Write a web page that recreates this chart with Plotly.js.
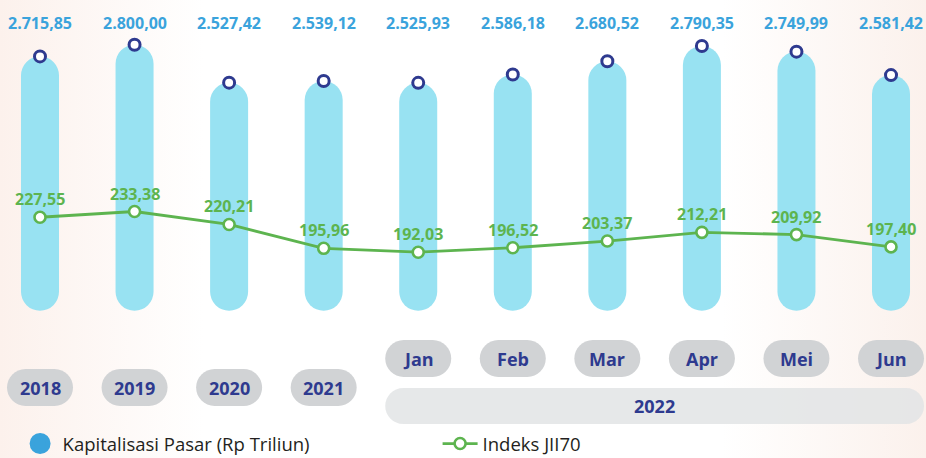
<!DOCTYPE html>
<html>
<head>
<meta charset="utf-8">
<script src="https://cdn.plot.ly/plotly-3.0.1.min.js"></script>
<style>
  html, body { margin: 0; padding: 0; }
  body { width: 926px; height: 458px; overflow: hidden;
         background: linear-gradient(90deg, #fcf1ec 0%, #ffffff 22%, #ffffff 78%, #fbf1ec 100%); }
  #chart { width: 926px; height: 458px; }
</style>
</head>
<body>
<div id="chart"></div>
<script>
// ---- data ----
const categories = ['2018', '2019', '2020', '2021', 'Jan', 'Feb', 'Mar', 'Apr', 'Mei', 'Jun'];
const kapitalisasi = [2715.85, 2800.00, 2527.42, 2539.12, 2525.93, 2586.18, 2680.52, 2790.35, 2749.99, 2581.42];
const jii70 = [227.55, 233.38, 220.21, 195.96, 192.03, 196.52, 203.37, 212.21, 209.92, 197.40];
const groupLabel = '2022';
const groupMembers = ['Jan', 'Feb', 'Mar', 'Apr', 'Mei', 'Jun'];
const seriesNames = ['Kapitalisasi Pasar (Rp Triliun)', 'Indeks JII70'];

// ---- styling constants ----
const FONT = 'Open Sans, Noto Sans, sans-serif';
const BAR_COLOR = '#98e2f2';
const NAVY = '#2e3a8f';
const BLUE_TEXT = '#3aa3dc';
const GREEN = '#5db44f';
const PILL_GREY = '#d1d3d5';
const BAND_GREY = 'rgba(226,228,229,0.85)';
const PILL_BOTTOM = 889;   // value where the pill bars end at the bottom
const W = 926, H = 458;

const xs = categories.map((_, i) => i);

function fmtID(v) {
  const parts = v.toFixed(2).split('.');
  parts[0] = parts[0].replace(/\B(?=(\d{3})+(?!\d))/g, '.');
  return parts[0] + ',' + parts[1];
}

function pillPath(w, h) {
  const r = h / 2, half = w / 2 - r, k = 0.5523 * r;
  return `M ${-half},${-r} L ${half},${-r} C ${half + k},${-r} ${half + r},${-k} ${half + r},0 ` +
         `C ${half + r},${k} ${half + k},${r} ${half},${r} L ${-half},${r} ` +
         `C ${-half - k},${r} ${-half - r},${k} ${-half - r},0 C ${-half - r},${-k} ${-half - k},${-r} ${-half},${-r} Z`;
}

const traces = [];
// pill bars
traces.push({
  type: 'bar', x: xs, y: kapitalisasi.map(v => v - PILL_BOTTOM), base: PILL_BOTTOM,
  width: 0.402, marker: { color: BAR_COLOR, cornerradius: '50%', line: { width: 0 } },
  showlegend: false, hoverinfo: 'skip'
});
// top markers
traces.push({
  type: 'scatter', mode: 'markers', x: xs, y: kapitalisasi,
  marker: { size: 11, color: '#ffffff', line: { color: NAVY, width: 3 } },
  showlegend: false, hoverinfo: 'skip', cliponaxis: false
});
// legend entry for kapitalisasi
traces.push({
  type: 'scatter', mode: 'markers', x: [null], y: [null], name: seriesNames[0],
  marker: { size: 16, color: '#3aa3dc', line: { color: '#3aa3dc', width: 5 } }, hoverinfo: 'skip'
});
// JII70 line
traces.push({
  type: 'scatter', mode: 'lines+markers', x: xs, y: jii70, yaxis: 'y2', name: seriesNames[1],
  line: { color: GREEN, width: 2.8 },
  marker: { size: 11, color: '#ffffff', line: { color: GREEN, width: 2.6 } },
  hoverinfo: 'skip', cliponaxis: false
});

const annotations = [];
const shapes = [];

kapitalisasi.forEach((v, i) => {
  annotations.push({
    x: i, xref: 'x', y: 1 - 23 / H, yref: 'paper', yanchor: 'middle',
    text: '<b>' + fmtID(v) + '</b>', showarrow: false,
    font: { family: FONT, size: 16, color: BLUE_TEXT }
  });
});

jii70.forEach((v, i) => {
  annotations.push({
    x: i, xref: 'x', y: v, yref: 'y2', yanchor: 'middle', yshift: 18,
    text: '<b>' + fmtID(v) + '</b>', showarrow: false,
    font: { family: FONT, size: 16, color: GREEN }
  });
});

categories.forEach((c, i) => {
  const isMonth = groupMembers.includes(c);
  const yc = isMonth ? 1 - 358.5 / H : 1 - 387.5 / H;
  shapes.push({
    type: 'path', xref: 'x', yref: 'paper', xsizemode: 'pixel', ysizemode: 'pixel',
    xanchor: i, yanchor: yc, path: pillPath(66, 37),
    fillcolor: PILL_GREY, line: { width: 0 }, layer: 'below'
  });
  annotations.push({
    x: i, xref: 'x', y: yc, yref: 'paper', yanchor: 'middle',
    text: '<b>' + c + '</b>', showarrow: false,
    font: { family: FONT, size: 18, color: NAVY }
  });
});

// group band (2022)
const gIdx = groupMembers.map(m => categories.indexOf(m));
const gFirst = Math.min(...gIdx), gLast = Math.max(...gIdx);
const gCenter = (gFirst + gLast) / 2;
const xRange = [-0.423, 9.370];
const pxPerUnit = W / (xRange[1] - xRange[0]);
const bandW = (gLast - gFirst) * pxPerUnit + 66;
const bandY = 1 - 406 / H;
shapes.push({
  type: 'path', xref: 'x', yref: 'paper', xsizemode: 'pixel', ysizemode: 'pixel',
  xanchor: gCenter, yanchor: bandY, path: pillPath(bandW, 36),
  fillcolor: BAND_GREY, line: { width: 0 }, layer: 'below'
});
annotations.push({
  x: gCenter, xref: 'x', y: bandY, yref: 'paper', yanchor: 'middle',
  text: '<b>' + groupLabel + '</b>', showarrow: false,
  font: { family: FONT, size: 18, color: NAVY }
});

const layout = {
  width: W, height: H,
  margin: { l: 0, r: 0, t: 0, b: 0, autoexpand: false },
  paper_bgcolor: 'rgba(0,0,0,0)', plot_bgcolor: 'rgba(0,0,0,0)',
  separators: ',.',
  font: { family: FONT },
  barmode: 'overlay',
  xaxis: { range: xRange, visible: false, fixedrange: true },
  yaxis: { range: [-169, 3121], visible: false, fixedrange: true },
  yaxis2: { range: [-17.2, 448.4], overlaying: 'y', visible: false, fixedrange: true },
  showlegend: true,
  legend: {
    orientation: 'h', x: 0.019, xanchor: 'left', y: 1 - 444 / H, yanchor: 'middle',
    font: { family: FONT, size: 18.5, color: '#231f20' },
    bgcolor: 'rgba(0,0,0,0)', itemsizing: 'trace', itemwidth: 35,
    entrywidth: 370, entrywidthmode: 'pixels', traceorder: 'normal'
  },
  shapes: shapes,
  annotations: annotations
};

Plotly.newPlot('chart', traces, layout, { staticPlot: true, displayModeBar: false });
</script>
</body>
</html>
